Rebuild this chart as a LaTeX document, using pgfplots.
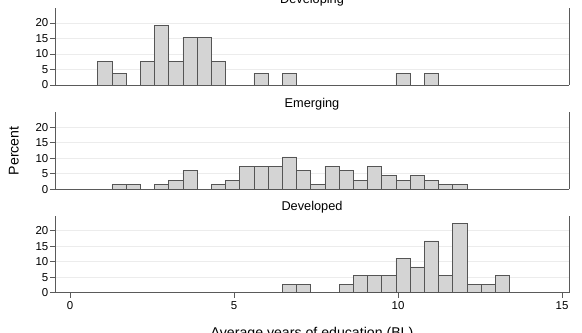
\documentclass[border=0pt]{standalone}
\usepackage{fontspec}
\setmainfont{Liberation Sans}
\usepackage{pgfplots}
\pgfplotsset{compat=1.18}
\definecolor{barfill}{RGB}{212,212,212}
\definecolor{baredge}{RGB}{85,85,85}
\definecolor{axcol}{RGB}{90,90,90}
\definecolor{gridcol}{RGB}{236,236,236}
\pgfplotsset{
  panel/.style={
    scale only axis, width=514bp, height=77bp,
    xmin=-0.457, xmax=15.213, ymin=0, ymax=24.8,
    enlargelimits=false,
    axis x line*=bottom, axis y line*=left,
    axis line style={color=axcol, line width=0.8bp, -},
    ytick={0,5,10,15,20},
    ymajorgrids, grid style={color=gridcol, line width=0.6bp},
    tick align=outside, major tick length=5bp,
    tick style={color=axcol, line width=0.7bp},
    ytick pos=left,
    /pgf/number format/assume math mode=true,
    tick label style={font=\fontsize{11.5}{13}\selectfont, color=black},
    yticklabel style={inner sep=1.5bp},
    title style={at={(axis description cs:0.5,1)}, anchor=base, yshift=-1bp, font=\fontsize{12.8}{14}\selectfont},
    after end axis/.code={\draw[axcol, line width=0.8bp] (rel axis cs:1,0) -- (rel axis cs:1,1);},
  },
  histbar/.style={ybar, bar width=0.433, bar shift=0pt, fill=barfill, draw=baredge, line width=0.6bp, mark=none},
}
\begin{document}
\begin{tikzpicture}
\begin{axis}[panel, at={(55bp,248bp)}, anchor=south west, title=Developing, xtick=\empty]
\addplot[histbar] coordinates {(1.061,7.692)(1.494,3.846)(2.360,7.692)(2.793,19.231)(3.226,7.692)(3.659,15.385)(4.092,15.385)(4.525,7.692)(5.824,3.846)(6.690,3.846)(10.154,3.846)(11.020,3.846)};
\end{axis}
\begin{axis}[panel, at={(55bp,143.7bp)}, anchor=south west, title=Emerging, xtick=\empty,
  ylabel=Percent, ylabel style={at={(axis description cs:-0.08,0.5)}, anchor=center, font=\fontsize{14.2}{16}\selectfont}]
\addplot[histbar] coordinates {(1.494,1.493)(1.927,1.493)(2.793,1.493)(3.226,2.985)(3.659,5.970)(4.525,1.493)(4.958,2.985)(5.391,7.463)(5.824,7.463)(6.257,7.463)(6.690,10.448)(7.123,5.970)(7.556,1.493)(7.989,7.463)(8.422,5.970)(8.855,2.985)(9.288,7.463)(9.721,4.478)(10.154,2.985)(10.587,4.478)(11.020,2.985)(11.453,1.493)(11.886,1.493)};
\end{axis}
\begin{axis}[panel, at={(55bp,40.3bp)}, anchor=south west, title=Developed,
  xtick={0,5,10,15}, xtick pos=bottom,
  xlabel={Average years of education (BL)},
  xlabel style={at={(axis description cs:0.5,0)}, anchor=base, yshift=-45bp, font=\fontsize{14.2}{16}\selectfont}]
\addplot[histbar] coordinates {(6.690,2.778)(7.123,2.778)(8.422,2.778)(8.855,5.556)(9.288,5.556)(9.721,5.556)(10.154,11.111)(10.587,8.333)(11.020,16.667)(11.453,5.556)(11.886,22.222)(12.319,2.778)(12.752,2.778)(13.185,5.556)};
\end{axis}
\pgfresetboundingbox
\path (0bp,0bp) rectangle (582bp,333bp);
\end{tikzpicture}
\end{document}
